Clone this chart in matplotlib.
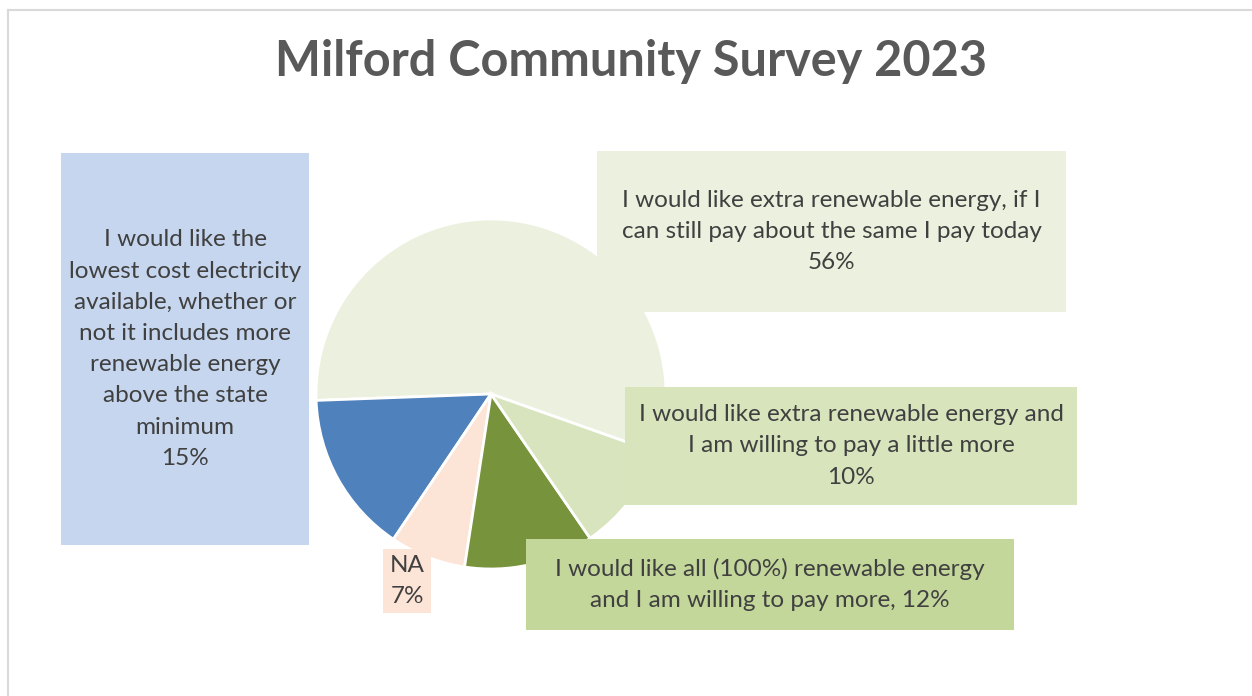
import numpy as np
import matplotlib.pyplot as plt
from matplotlib.patches import Rectangle

plt.rcParams['font.family'] = ['Lato', 'DejaVu Sans']

# data
labels = ['I would like extra renewable energy, if I\ncan still pay about the same I pay today\n56%',
          'I would like the\nlowest cost electricity\navailable, whether or\nnot it includes more\nrenewable energy\nabove the state\nminimum\n15%',
          'NA\n7%',
          'I would like all (100%) renewable energy\nand I am willing to pay more, 12%',
          'I would like extra renewable energy and\nI am willing to pay a little more\n10%']
values = [56, 15, 7, 12, 10]
slice_colors = ['#EBF1DE', '#4F81BD', '#FCE4D6', '#77933C', '#D7E4BD']
box_colors = ['#EBF1DE', '#C5D6EE', '#FCE4D6', '#C4D79B', '#D8E4BC']
# label boxes (x, y top, w, h) in pixels from top-left
boxes = [(597, 151, 469, 161), (61, 153, 248, 392), (383, 549, 48, 64),
         (526, 539, 488, 91), (625, 387, 452, 118)]

W, H = 1252, 696
fig = plt.figure(figsize=(W / 100, H / 100), dpi=100)
ax = fig.add_axes([0, 0, 1, 1])

ax.pie(values, colors=slice_colors, startangle=-19.5, counterclock=True,
       center=(491, H - 394), radius=175,
       wedgeprops=dict(edgecolor='white', linewidth=2))

for lab, col, (x, y, w, h) in zip(labels, box_colors, boxes):
    ax.add_patch(Rectangle((x, H - y - h), w, h, facecolor=col, edgecolor='none', zorder=3))
    ax.text(x + w / 2, H - y - h / 2, lab, ha='center', va='center', fontsize=17.5,
            color='#404040', linespacing=1.6, zorder=4)

ax.text(631, H - 62, 'Milford Community Survey 2023', ha='center', va='center',
        fontsize=35, fontweight='bold', color='#595959')

# chart border
ax.plot([8, W], [H - 10, H - 10], color='#D9D9D9', lw=1.5)
ax.plot([8, 8], [0, H - 10], color='#D9D9D9', lw=1.5)

ax.set_xlim(0, W)
ax.set_ylim(0, H)
ax.set_aspect('equal')
ax.axis('off')

plt.savefig('out.png', dpi=100)
